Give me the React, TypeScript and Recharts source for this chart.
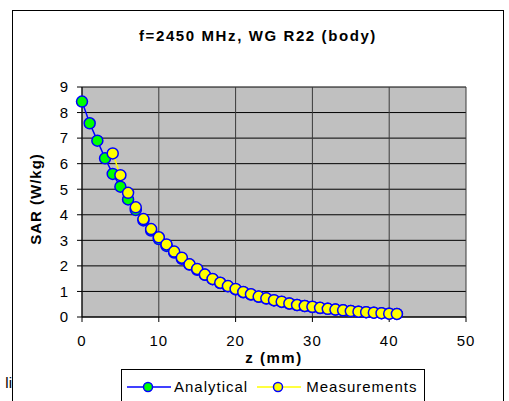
import React from 'react';
import { LineChart, Line, XAxis, YAxis, CartesianGrid } from 'recharts';

const xTicks = [0, 10, 20, 30, 40, 50];
const yTicks = [0, 1, 2, 3, 4, 5, 6, 7, 8, 9];

// analytical curve (green markers), z in mm
const analyticalZ = [0, 1, 2, 3, 4, 5, 6, 7, 8, 9, 10, 11, 12, 13, 14, 15, 16, 17, 18, 19, 20,
  21, 22, 23, 24, 25, 26, 27, 28, 29, 30, 31, 32, 33, 34, 35, 36, 37, 38, 39, 40, 41];
const analyticalSar = [8.43, 7.58, 6.9, 6.21, 5.6, 5.1, 4.6, 4.19, 3.78, 3.38, 3.05, 2.78, 2.52, 2.28, 2.05, 1.85, 1.65, 1.48, 1.33, 1.2, 1.08,
  0.97, 0.88, 0.79, 0.72, 0.65, 0.59, 0.53, 0.47, 0.43, 0.39, 0.35, 0.32, 0.29, 0.26, 0.23, 0.21, 0.19, 0.17, 0.15, 0.13, 0.12];

// measured values (yellow markers)
const measuredZ = [4, 5, 6, 7, 8, 9, 10, 11, 12, 13, 14, 15, 16, 17, 18, 19, 20, 21, 22,
  23, 24, 25, 26, 27, 28, 29, 30, 31, 32, 33, 34, 35, 36, 37, 38, 39, 40, 41];
const measuredSar = [6.4, 5.55, 4.86, 4.29, 3.83, 3.44, 3.12, 2.84, 2.56, 2.32, 2.06, 1.88, 1.66, 1.49, 1.34, 1.21, 1.1, 0.98, 0.89,
  0.8, 0.73, 0.66, 0.6, 0.53, 0.47, 0.43, 0.4, 0.36, 0.32, 0.29, 0.26, 0.23, 0.21, 0.19, 0.17, 0.15, 0.13, 0.12];

const analyticalData = analyticalZ.map((z, i) => ({ z, sar: analyticalSar[i] }));
const measuredData = measuredZ.map((z, i) => ({ z, sar: measuredSar[i] }));

const FONT = 'Arial, "Liberation Sans", sans-serif';
const tickStyle = { fill: '#000', fontSize: 15, fontFamily: FONT, letterSpacing: 1 };

const LegendMark = ({ line, fill }: { line: string; fill: string }) => (
  <svg width={44} height={12} style={{ display: 'block' }}>
    <line x1={0} y1={6} x2={44} y2={6} stroke={line} strokeWidth={1.5} />
    <circle cx={21} cy={6} r={4.5} fill={fill} stroke="#0000FF" strokeWidth={1.5} />
  </svg>
);

const App = () => {
  return (
    <div style={{ position: 'absolute', left: 0, top: 0, width: 509, height: 401, background: '#fff', overflow: 'hidden', fontFamily: FONT }}>
      {/* outer chart frame */}
      <div style={{ position: 'absolute', left: 12, top: 10, width: 490, height: 420, border: '1px solid #000' }} />
      <div style={{ position: 'absolute', left: 0, top: 374, width: 12, overflow: 'hidden', fontSize: 15, whiteSpace: 'nowrap', direction: 'rtl' }}>li</div>

      <div style={{ position: 'absolute', left: 12, top: 27, width: 492, textAlign: 'center', fontSize: 15, fontWeight: 'bold', letterSpacing: 1.6 }}>
        f=2450 MHz, WG R22 (body)
      </div>

      <div style={{ position: 'absolute', left: 0, top: 0 }}>
        <LineChart width={509} height={401} data={analyticalData} margin={{ top: 87, right: 43, bottom: 39, left: 42 }}>
          <CartesianGrid horizontal={true} vertical={false} stroke="#000" fill="#C0C0C0" fillOpacity={1} />
          <CartesianGrid horizontal={false} vertical={true} stroke="#3a3a3a" />
          <XAxis type="number" dataKey="z" domain={[0, 50]} ticks={xTicks} height={45} tickSize={5} tickMargin={13}
            axisLine={{ stroke: '#000' }} tickLine={{ stroke: '#000' }} tick={tickStyle} />
          <YAxis type="number" domain={[0, 9]} ticks={yTicks} width={40} tickSize={5} tickMargin={8}
            axisLine={{ stroke: '#000' }} tickLine={{ stroke: '#000' }} tick={tickStyle} />
          <Line data={analyticalData} dataKey="sar" stroke="#0000FF" strokeWidth={1.5} isAnimationActive={false}
            dot={{ r: 5.5, fill: '#00FF00', stroke: '#0000FF', strokeWidth: 1.5, fillOpacity: 1, clipDot: false }} />
          <Line data={measuredData} dataKey="sar" stroke="#FFFF00" strokeWidth={1.5} isAnimationActive={false}
            dot={{ r: 5.5, fill: '#FFFF00', stroke: '#0000FF', strokeWidth: 1.5, fillOpacity: 1, clipDot: false }} />
        </LineChart>
      </div>

      <div style={{ position: 'absolute', left: 35, top: 199, transform: 'translate(-50%, -50%) rotate(-90deg)', fontSize: 15, fontWeight: 'bold', letterSpacing: 1, whiteSpace: 'nowrap' }}>
        SAR (W/kg)
      </div>
      <div style={{ position: 'absolute', left: 274, top: 357, transform: 'translate(-50%, -50%)', fontSize: 15, fontWeight: 'bold', letterSpacing: 1.5, whiteSpace: 'nowrap' }}>
        z (mm)
      </div>

      {/* legend */}
      <div style={{ position: 'absolute', left: 121, top: 369, width: 302, height: 40, border: '1px solid #000', background: '#fff' }}>
        <div style={{ position: 'absolute', left: 5, top: 8, display: 'flex', alignItems: 'center', fontSize: 15, letterSpacing: 1, whiteSpace: 'nowrap' }}>
          <LegendMark line="#0000FF" fill="#00FF00" />
          <span style={{ marginLeft: 3, marginRight: 9 }}>Analytical</span>
          <LegendMark line="#FFFF00" fill="#FFFF00" />
          <span style={{ marginLeft: 5 }}>Measurements</span>
        </div>
      </div>
    </div>
  );
};

export default App;
